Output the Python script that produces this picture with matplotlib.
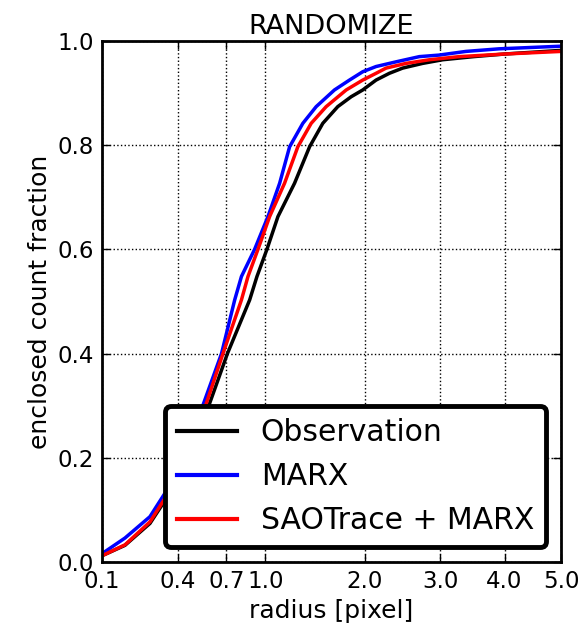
import numpy as np
import matplotlib
matplotlib.use("Agg")
import matplotlib.pyplot as plt

# radius [pixel] vs enclosed count fraction
obs_r = [0.1, 0.17, 0.267, 0.40, 0.588, 0.707, 0.872, 0.930, 1.012, 1.107, 1.258, 1.403,
         1.537, 1.696, 1.845, 1.979, 2.139, 2.305, 2.477, 2.746, 3.03, 3.5, 4.0, 5.0]
obs_f = [0.012, 0.032, 0.074, 0.155, 0.305, 0.40, 0.503, 0.548, 0.60, 0.663, 0.727, 0.797,
         0.842, 0.874, 0.893, 0.906, 0.925, 0.938, 0.948, 0.957, 0.964, 0.97, 0.975, 0.982]

marx_r = [0.1, 0.17, 0.267, 0.40, 0.550, 0.666, 0.759, 0.809, 0.911, 1.021, 1.122, 1.212,
          1.337, 1.469, 1.660, 1.826, 1.979, 2.139, 2.39, 2.701, 2.982, 3.379, 3.909, 5.0]
marx_f = [0.016, 0.046, 0.087, 0.17, 0.305, 0.40, 0.503, 0.548, 0.60, 0.663, 0.727, 0.797,
          0.842, 0.874, 0.906, 0.925, 0.941, 0.951, 0.96, 0.97, 0.973, 0.98, 0.985, 0.99]

sao_r = [0.1, 0.17, 0.267, 0.40, 0.567, 0.676, 0.809, 0.859, 0.938, 1.035, 1.166, 1.289,
         1.419, 1.572, 1.789, 1.979, 2.139, 2.263, 2.521, 2.84, 3.277, 4.0, 5.0]
sao_f = [0.012, 0.033, 0.077, 0.16, 0.305, 0.40, 0.503, 0.548, 0.60, 0.663, 0.727, 0.797,
         0.842, 0.874, 0.906, 0.925, 0.938, 0.948, 0.957, 0.964, 0.97, 0.975, 0.98]

xticks = [0.1, 0.4, 0.7, 1.0, 2.0, 3.0, 4.0, 5.0]
yticks = [0.0, 0.2, 0.4, 0.6, 0.8, 1.0]

fig = plt.figure(figsize=(5.8, 6.36), dpi=100)
ax = fig.add_axes([102 / 580, 74 / 636, 459 / 580, 521 / 636])

ax.plot(obs_r, obs_f, color='k', lw=2.5, label='Observation')
ax.plot(marx_r, marx_f, color='b', lw=2.5, label='MARX')
ax.plot(sao_r, sao_f, color='r', lw=2.5, label='SAOTrace + MARX')

# square-root radius axis
ax.set_xscale('function', functions=(np.sqrt, np.square))
ax.set_xlim(0.1, 5.0)
ax.set_ylim(0.0, 1.0)
ax.set_xticks(xticks)
ax.set_xticklabels(['%.1f' % t for t in xticks])
ax.set_yticks(yticks)
ax.set_yticklabels(['%.1f' % t for t in yticks])
ax.minorticks_off()

ax.grid(True, color='k', linestyle=':', linewidth=1)
ax.tick_params(direction='in', length=6, width=1, labelsize=16.5, pad=6,
               top=True, right=True)
for s in ax.spines.values():
    s.set_linewidth(2)

ax.set_title('RANDOMIZE', fontsize=19.5, pad=5)
ax.set_xlabel('radius [pixel]', fontsize=18)
ax.set_ylabel('enclosed count fraction', fontsize=18)

leg = ax.legend(loc='lower right', fontsize=21.5, fancybox=True, framealpha=1)
leg.get_frame().set_edgecolor('k')
leg.get_frame().set_linewidth(3.5)
for h in leg.legend_handles:
    h.set_linewidth(3)

plt.savefig('out.png', dpi=100)
